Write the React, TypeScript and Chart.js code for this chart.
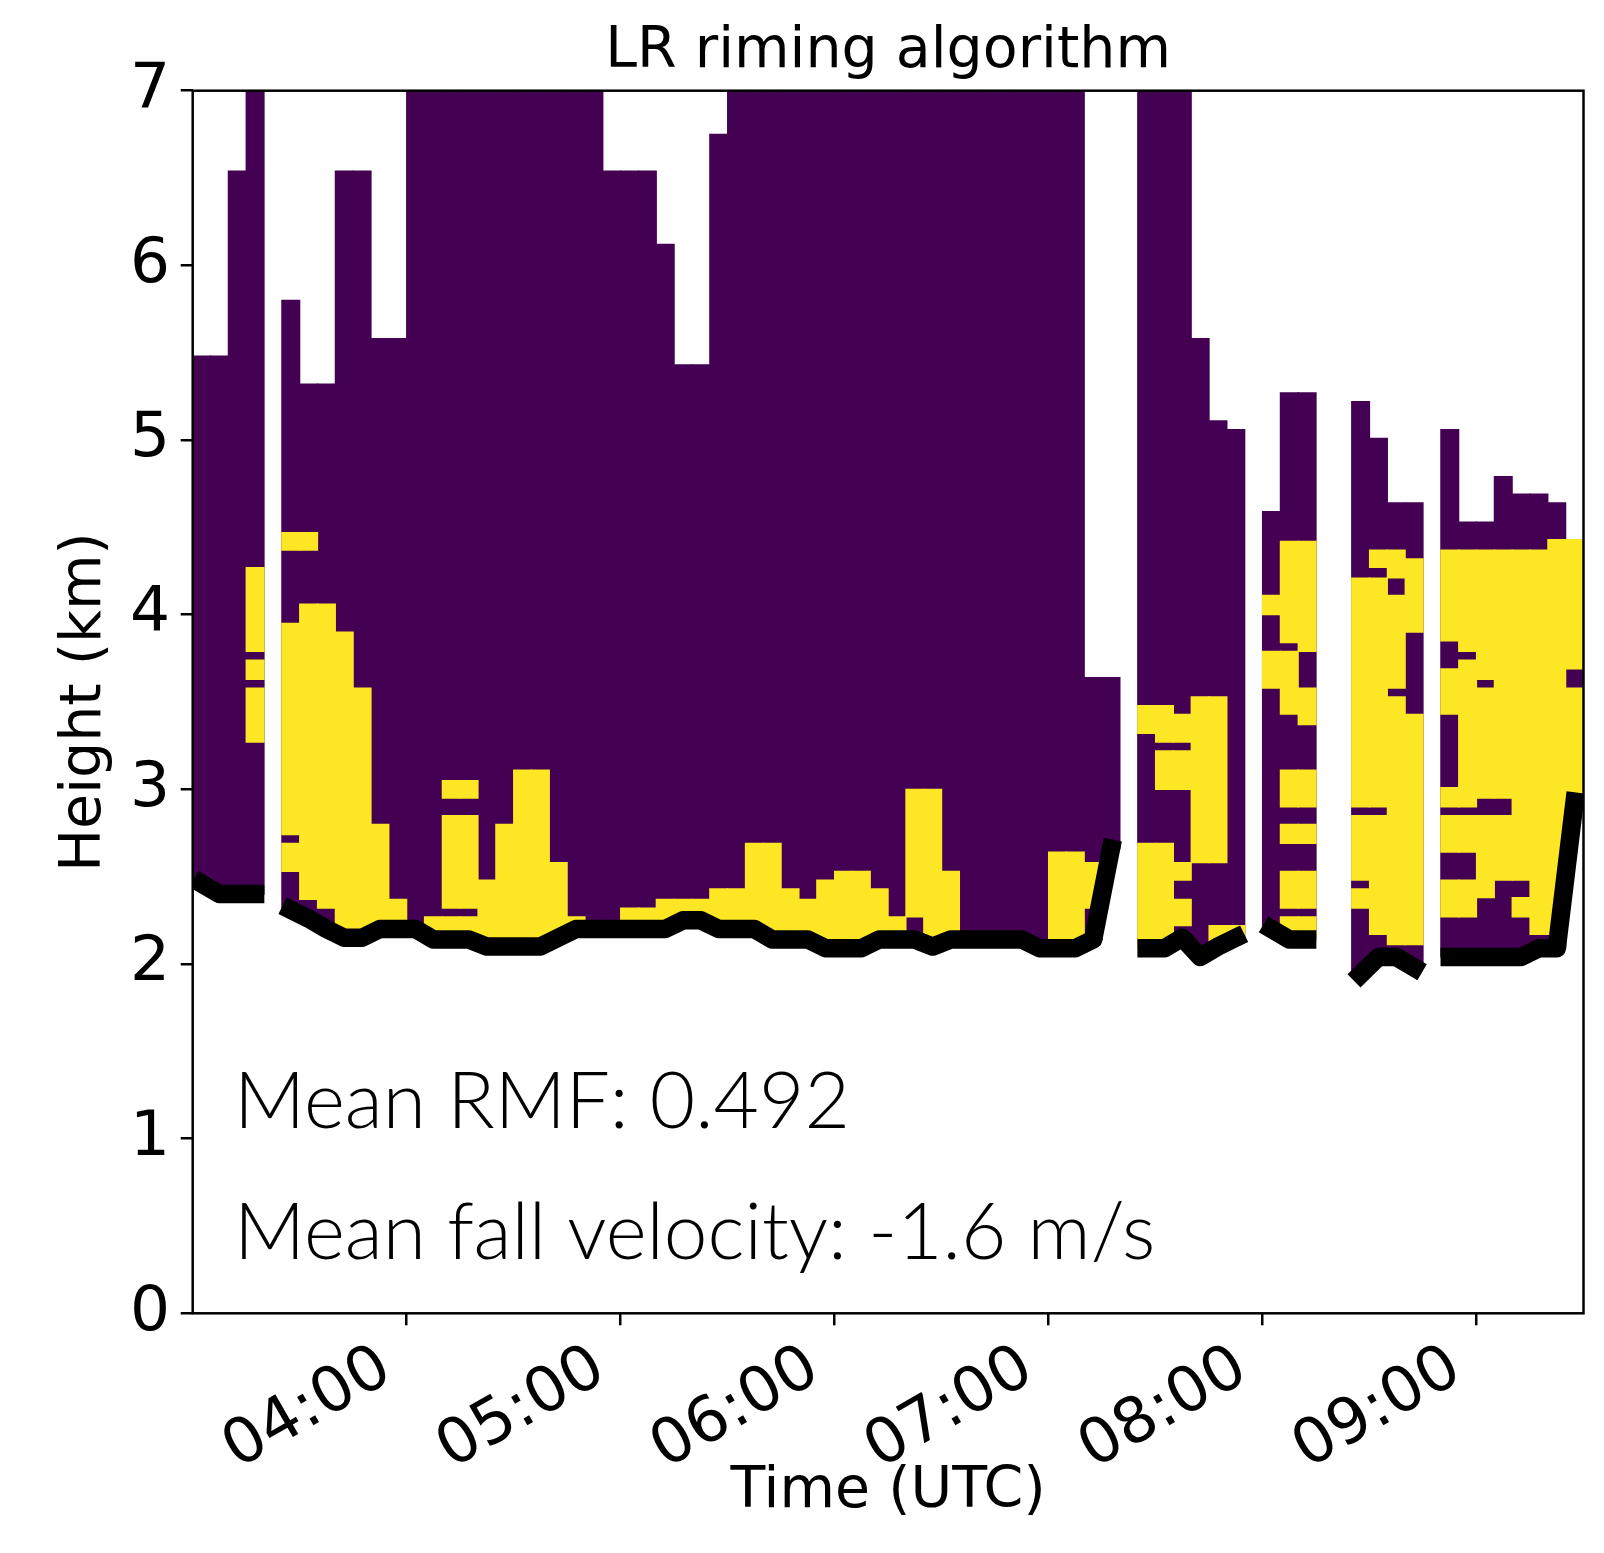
import { useEffect, useRef } from 'react';
import { Chart, registerables } from 'chart.js';

Chart.register(...registerables);

// ---- data (5-minute columns starting at 03:00 UTC) ----
const columnStart = [
  '03:00','03:05','03:10','03:15','03:20','03:25','03:30','03:35','03:40','03:45','03:50','03:55',
  '04:00','04:05','04:10','04:15','04:20','04:25','04:30','04:35','04:40','04:45','04:50','04:55',
  '05:00','05:05','05:10','05:15','05:20','05:25','05:30','05:35','05:40','05:45','05:50','05:55',
  '06:00','06:05','06:10','06:15','06:20','06:25','06:30','06:35','06:40','06:45','06:50','06:55',
  '07:00','07:05','07:10','07:15','07:20','07:25','07:30','07:35','07:40','07:45','07:50','07:55',
  '08:00','08:05','08:10','08:15','08:20','08:25','08:30','08:35','08:40','08:45','08:50','08:55',
  '09:00','09:05','09:10','09:15','09:20','09:25',
];

// echo top (km)
const cloudTop = [
  5.48, 5.48, 6.54, 7, null, 5.80, 5.32, 5.32, 6.54, 6.54,
  5.58, 5.58, 7, 7, 7, 7, 7, 7, 7, 7,
  7, 7, 7, 6.54, 6.54, 6.54, 6.12, 5.43, 5.43, 6.75,
  7, 7, 7, 7, 7, 7, 7, 7, 7, 7,
  7, 7, 7, 7, 7, 7, 7, 7, 7, 7,
  3.64, 3.64, null, 7, 7, 7, 5.58, 5.11, 5.06, null,
  4.59, 5.27, 5.27, null, null, 5.22, 5.01, 4.64, 4.64, null,
  5.06, 4.53, 4.53, 4.79, 4.69, 4.69, 4.64, 4.43,
];

// cloud base (km), the thick black line
const cloudBase = [
  2.46, 2.40, 2.40, 2.40, null, 2.31, 2.26, 2.20, 2.15, 2.15,
  2.20, 2.20, 2.20, 2.14, 2.14, 2.14, 2.10, 2.10, 2.10, 2.10,
  2.15, 2.20, 2.20, 2.20, 2.20, 2.20, 2.20, 2.25, 2.25, 2.20,
  2.20, 2.20, 2.14, 2.14, 2.14, 2.09, 2.09, 2.09, 2.14, 2.14,
  2.14, 2.10, 2.14, 2.14, 2.14, 2.14, 2.14, 2.09, 2.09, 2.09,
  2.14, 2.66, null, 2.09, 2.09, 2.15, 2.04, 2.10, 2.15, null,
  2.20, 2.14, 2.14, null, null, 1.94, 2.04, 2.04, 1.98, null,
  2.04, 2.04, 2.04, 2.04, 2.04, 2.09, 2.09, 2.93,
];

// rimed layers [bottom, top] (km) per column
const rimedLayers: number[][][] = [
  [], [], [], [[3.27, 3.58], [3.63, 3.74], [3.79, 4.27]], [],
  [[2.53, 2.69], [2.74, 3.95], [4.37, 4.47]],
  [[2.37, 4.06], [4.37, 4.47]],
  [[2.32, 4.06]],
  [[2.15, 3.90]],
  [[2.15, 3.58]],
  [[2.20, 2.80]],
  [[2.20, 2.37]],
  [],
  [[2.14, 2.27]],
  [[2.14, 2.27], [2.32, 2.85], [2.95, 3.05]],
  [[2.14, 2.27], [2.32, 2.85], [2.95, 3.05]],
  [[2.10, 2.48]],
  [[2.10, 2.80]],
  [[2.10, 3.11]],
  [[2.10, 3.11]],
  [[2.15, 2.58]],
  [[2.20, 2.27]],
  [], [],
  [[2.20, 2.32]],
  [[2.20, 2.32]],
  [[2.20, 2.37]],
  [[2.25, 2.37]],
  [[2.25, 2.37]],
  [[2.20, 2.43]],
  [[2.20, 2.43]],
  [[2.20, 2.69]],
  [[2.14, 2.69]],
  [[2.14, 2.43]],
  [[2.14, 2.37]],
  [[2.09, 2.48]],
  [[2.09, 2.53]],
  [[2.09, 2.53]],
  [[2.14, 2.43]],
  [[2.14, 2.27]],
  [[2.27, 3.00]],
  [[2.10, 3.00]],
  [[2.14, 2.53]],
  [], [], [], [], [],
  [[2.09, 2.64]],
  [[2.09, 2.64]],
  [[2.32, 2.58]],
  [], [],
  [[2.09, 2.69], [3.32, 3.48]],
  [[2.09, 2.69], [3.00, 3.22], [3.27, 3.48]],
  [[2.22, 2.37], [2.48, 2.58], [3.00, 3.22], [3.27, 3.43]],
  [[2.58, 3.53]],
  [[2.10, 2.22], [2.58, 3.53]],
  [[2.15, 2.22]],
  [],
  [[3.58, 3.79], [4.00, 4.11]],
  [[2.14, 2.27], [2.32, 2.53], [2.69, 2.80], [2.90, 3.11], [3.43, 3.79], [3.84, 4.42]],
  [[2.14, 2.27], [2.32, 2.53], [2.69, 2.80], [2.90, 3.11], [3.37, 3.58], [3.79, 4.42]],
  [], [],
  [[2.32, 2.43], [2.48, 2.85], [2.90, 4.21]],
  [[2.17, 2.85], [2.90, 4.21], [4.27, 4.37]],
  [[2.11, 3.53], [3.58, 4.11], [4.21, 4.37]],
  [[2.11, 3.43], [3.90, 4.32]],
  [],
  [[2.27, 2.48], [2.64, 2.85], [2.90, 3.01], [3.43, 3.69], [3.85, 4.37]],
  [[2.27, 2.48], [2.64, 2.85], [2.90, 3.74], [3.79, 4.37]],
  [[2.38, 2.85], [2.95, 3.58], [3.63, 4.37]],
  [[2.48, 2.85], [2.95, 4.37]],
  [[2.27, 2.38], [2.48, 4.37]],
  [[2.17, 4.37]],
  [[2.17, 4.43]],
  [[2.93, 3.58], [3.69, 4.43]],
];

const xTickLabels = ['04:00', '05:00', '06:00', '07:00', '08:00', '09:00'];
const yTickValues = [0, 1, 2, 3, 4, 5, 6, 7];
const axisStart = '03:00';
const axisEnd = '09:30';
const meanRmf = 0.492;
const meanFallVelocity = -1.6;

const PURPLE = '#440154';
const YELLOW = '#fde725';

const toMin = (s: string) => {
  const [h, m] = s.split(':').map(Number);
  return h * 60 + m;
};
const fmt = (v: number) => {
  const h = Math.floor(v / 60);
  const m = Math.round(v - h * 60);
  return String(h).padStart(2, '0') + ':' + String(m).padStart(2, '0');
};

const LABEL_FONT = { family: 'DejaVu Sans', size: 57, weight: 'normal' as const, lineHeight: 1.2 };
const TICK_FONT = { family: 'DejaVu Sans', size: 63, weight: 'normal' as const, lineHeight: 1.2 };

export default function App() {
  const ref = useRef<HTMLCanvasElement | null>(null);

  useEffect(() => {
    if (!ref.current) return;
    const half = 2.5;
    const purple: any[] = [];
    const yellow: any[] = [];
    const base: any[] = [];
    columnStart.forEach((s, i) => {
      const x = toMin(s) + half;
      const t = cloudTop[i];
      const b = cloudBase[i];
      if (t != null && b != null) purple.push({ x, y: [b, t] });
      rimedLayers[i].forEach(([lo, hi]) => yellow.push({ x, y: [lo, hi] }));
      base.push({ x, y: b });
    });

    const framePlugin = {
      id: 'frame',
      afterDatasetsDraw(chart: any) {
        const { ctx, chartArea: a } = chart;
        ctx.save();
        ctx.strokeStyle = '#000';
        ctx.lineWidth = 2.5;
        ctx.strokeRect(a.left, a.top, a.right - a.left, a.bottom - a.top);
        ctx.restore();
      },
    };

    const textPlugin = {
      id: 'stats',
      afterDatasetsDraw(chart: any) {
        const { ctx, chartArea: a } = chart;
        const l1 = `Mean RMF: ${meanRmf.toFixed(3)}`;
        const l2 = `Mean fall velocity: ${meanFallVelocity.toFixed(1)} m/s`;
        ctx.save();
        ctx.font = '300 100px Lato';
        const m = ctx.measureText(l2);
        const w = m.actualBoundingBoxRight + m.actualBoundingBoxLeft;
        const size = (100 * 910) / w;
        ctx.font = `300 ${size}px Lato`;
        ctx.fillStyle = '#000';
        ctx.textAlign = 'left';
        ctx.textBaseline = 'alphabetic';
        const w0 = a.right - a.left;
        const h0 = a.bottom - a.top;
        const x = a.left + 0.0355 * w0;
        const m1 = ctx.measureText(l1);
        ctx.fillText(l1, x + m1.actualBoundingBoxLeft, a.bottom - 0.1516 * h0);
        const m2 = ctx.measureText(l2);
        ctx.fillText(l2, x + m2.actualBoundingBoxLeft, a.bottom - 0.0444 * h0);
        ctx.restore();
      },
    };

    const barCommon = {
      borderWidth: 0,
      grouped: false,
      barPercentage: 1,
      categoryPercentage: 1,
      inflateAmount: 0.6,
    };

    const chart = new Chart(ref.current, {
      type: 'bar',
      data: {
        datasets: [
          {
            type: 'line',
            data: base,
            borderColor: '#000',
            borderWidth: 18.5,
            borderCapStyle: 'square',
            borderJoinStyle: 'round',
            pointRadius: 0,
            spanGaps: false,
            order: 0,
          } as any,
          { ...barCommon, data: yellow, backgroundColor: YELLOW, order: 1 } as any,
          { ...barCommon, data: purple, backgroundColor: PURPLE, order: 2 } as any,
        ],
      },
      options: {
        animation: false,
        responsive: false,
        devicePixelRatio: 1,
        events: [],
        layout: { padding: { left: 0, right: 20.5, top: 0, bottom: 0 } },
        plugins: {
          legend: { display: false },
          tooltip: { enabled: false },
          title: {
            display: true,
            fullSize: false,
            text: 'LR riming algorithm',
            color: '#000',
            font: LABEL_FONT,
            padding: { top: 18.2, bottom: 4.1 },
          },
        },
        scales: {
          x: {
            type: 'linear',
            min: toMin(axisStart),
            max: toMin(axisEnd),
            offset: false,
            afterBuildTicks: (s: any) => {
              s.ticks = xTickLabels.map((l) => ({ value: toMin(l) }));
            },
            afterFit: (s: any) => {
              s.height = 239.7;
            },
            ticks: {
              autoSkip: false,
              minRotation: 30,
              maxRotation: 30,
              padding: 6,
              labelOffset: -20,
              color: '#000',
              font: TICK_FONT,
              callback: (v: any) => fmt(Number(v)),
            },
            grid: {
              display: true,
              drawOnChartArea: false,
              drawTicks: true,
              tickLength: 12,
              color: '#000',
              lineWidth: 2.5,
              offset: false,
            },
            border: { display: false },
            title: {
              display: true,
              text: 'Time (UTC)',
              color: '#000',
              font: LABEL_FONT,
              padding: { top: 0, bottom: 26.5 },
            },
          },
          y: {
            type: 'linear',
            min: 0,
            max: 7,
            afterBuildTicks: (s: any) => {
              s.ticks = yTickValues.map((v) => ({ value: v }));
            },
            afterFit: (s: any) => {
              s.width = 192.7;
            },
            ticks: {
              padding: 10.5,
              color: '#000',
              font: TICK_FONT,
              callback: (v: any) => String(v),
            },
            grid: {
              display: true,
              drawOnChartArea: false,
              drawTicks: true,
              tickLength: 12,
              color: '#000',
              lineWidth: 2.5,
            },
            border: { display: false },
            title: {
              display: true,
              text: 'Height (km)',
              color: '#000',
              font: LABEL_FONT,
              padding: { top: 50.5, bottom: 0 },
            },
          },
        },
      } as any,
      plugins: [framePlugin, textPlugin],
    });

    return () => chart.destroy();
  }, []);

  return (
    <div style={{ position: 'fixed', left: 0, top: 0, width: 1604, height: 1553, background: '#fff' }}>
      <canvas ref={ref} width={1604} height={1553} style={{ display: 'block', width: 1604, height: 1553 }} />
    </div>
  );
}
